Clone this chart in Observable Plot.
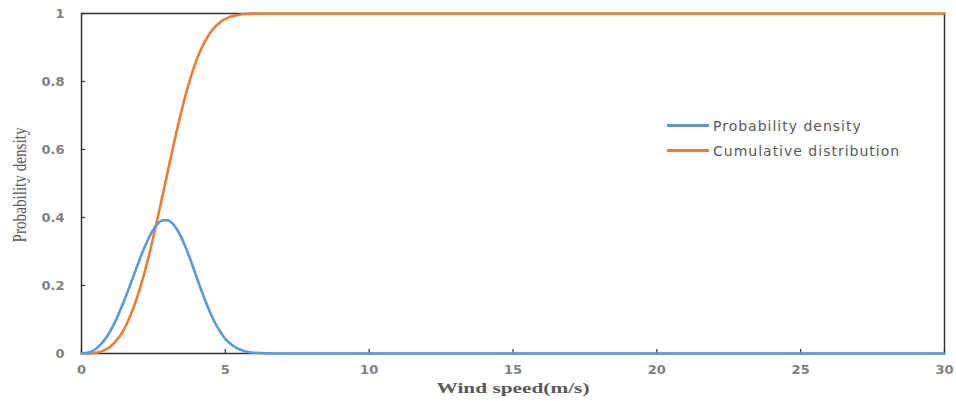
<!DOCTYPE html>
<html>
<head>
<meta charset="utf-8">
<script src="https://cdn.jsdelivr.net/npm/d3@7"></script>
<script src="https://cdn.jsdelivr.net/npm/@observablehq/plot@0.6"></script>
<style>
  html, body { margin: 0; padding: 0; background: #fff; }
  #chart { position: relative; width: 956px; height: 401px; }
  #chart svg { display: block; }
  .legend { position: absolute; left: 667px; top: 113px; font-family: 'DejaVu Sans', sans-serif; font-size: 14px; letter-spacing: 1px; color: #595959; }
  .legend .item { display: flex; align-items: center; height: 25px; }
  .legend .swatch { width: 42px; height: 2.4px; margin-right: 4px; }
</style>
</head>
<body>
<div id="chart"></div>
<script>
const windSpeed = [0, 0.2, 0.4, 0.6, 0.8, 1.0, 1.2, 1.4, 1.6, 1.8, 2.0, 2.2, 2.4, 2.6, 2.8, 3.0, 3.2, 3.4, 3.6, 3.8, 4.0, 4.2, 4.4, 4.6, 4.8, 5.0, 5.2, 5.4, 5.6, 5.8, 6.0, 6.5, 7, 30];
const probabilityDensity = [0, 0.002, 0.008, 0.021, 0.040, 0.066, 0.099, 0.138, 0.181, 0.226, 0.272, 0.314, 0.350, 0.377, 0.391, 0.392, 0.379, 0.353, 0.316, 0.273, 0.225, 0.178, 0.135, 0.097, 0.067, 0.043, 0.027, 0.016, 0.009, 0.004, 0.002, 0.0003, 0, 0];
const cumulativeDistribution = [0, 0.0001, 0.001, 0.004, 0.010, 0.020, 0.037, 0.060, 0.092, 0.133, 0.183, 0.241, 0.308, 0.381, 0.458, 0.536, 0.613, 0.687, 0.754, 0.813, 0.863, 0.903, 0.934, 0.957, 0.973, 0.984, 0.991, 0.995, 0.998, 0.999, 0.9995, 0.9999, 1, 1];
const xTicks = [0, 5, 10, 15, 20, 25, 30];
const yTicks = [0, 0.2, 0.4, 0.6, 0.8, 1];
const seriesNames = ["Probability density", "Cumulative distribution"];
const seriesColors = ["#5B9BD5", "#ED7D31"];
const xTitle = "Wind speed(m/s)";
const yTitle = "Probability density";

const pdfData = windSpeed.map((x, i) => ({x, y: probabilityDensity[i]}));
const cdfData = windSpeed.map((x, i) => ({x, y: cumulativeDistribution[i]}));

const chart = Plot.plot({
  width: 956,
  height: 401,
  marginLeft: 81,
  marginRight: 12,
  marginTop: 13,
  marginBottom: 48,
  style: {background: "#fff", fontFamily: "'DejaVu Sans', sans-serif"},
  x: {domain: [0, 30]},
  y: {domain: [0, 1]},
  marks: [
    Plot.axisX({ticks: xTicks, tickSize: 0, tickPadding: 11, tickFormat: d => String(d), label: null,
      fill: "#808080", fontWeight: "bold", fontSize: 13}),
    Plot.axisY({ticks: yTicks, tickSize: 0, tickPadding: 17, tickFormat: d => String(d), label: null,
      fill: "#808080", fontWeight: "bold", fontSize: 13}),
    Plot.tickX(xTicks, {x: d => d, insetTop: 336, stroke: "#303030", strokeWidth: 1.2}),
    Plot.tickY(yTicks, {y: d => d, insetRight: 859, stroke: "#303030", strokeWidth: 1.2}),
    Plot.frame({stroke: "#303030", strokeWidth: 1.5}),
    Plot.line(cdfData, {x: "x", y: "y", stroke: seriesColors[1], strokeWidth: 2.6, curve: "monotone-x"}),
    Plot.line(pdfData, {x: "x", y: "y", stroke: seriesColors[0], strokeWidth: 2.6, curve: "monotone-x"}),
    Plot.text([yTitle], {frameAnchor: "left", dx: -61, dy: 59, rotate: -90, text: d => d, textAnchor: "start",
      fontFamily: "'Liberation Serif', serif", fontSize: 18, fill: "#595959", className: "ytitle"}),
    Plot.text([xTitle], {frameAnchor: "bottom", dy: 39, text: d => d,
      fontFamily: "'Liberation Serif', serif", fontSize: 15, fontWeight: "bold", fill: "#595959", className: "xtitle"})
  ]
});
document.getElementById("chart").appendChild(chart);

d3.select(chart).selectAll(".ytitle text")
  .attr("textLength", 115).attr("lengthAdjust", "spacingAndGlyphs");
d3.select(chart).selectAll(".xtitle text")
  .attr("textLength", 153).attr("lengthAdjust", "spacingAndGlyphs");

const legend = d3.select("#chart").append("div").attr("class", "legend");
seriesNames.forEach((name, i) => {
  const item = legend.append("div").attr("class", "item");
  item.append("div").attr("class", "swatch").style("background", seriesColors[i]);
  item.append("span").text(name);
});
</script>
</body>
</html>
